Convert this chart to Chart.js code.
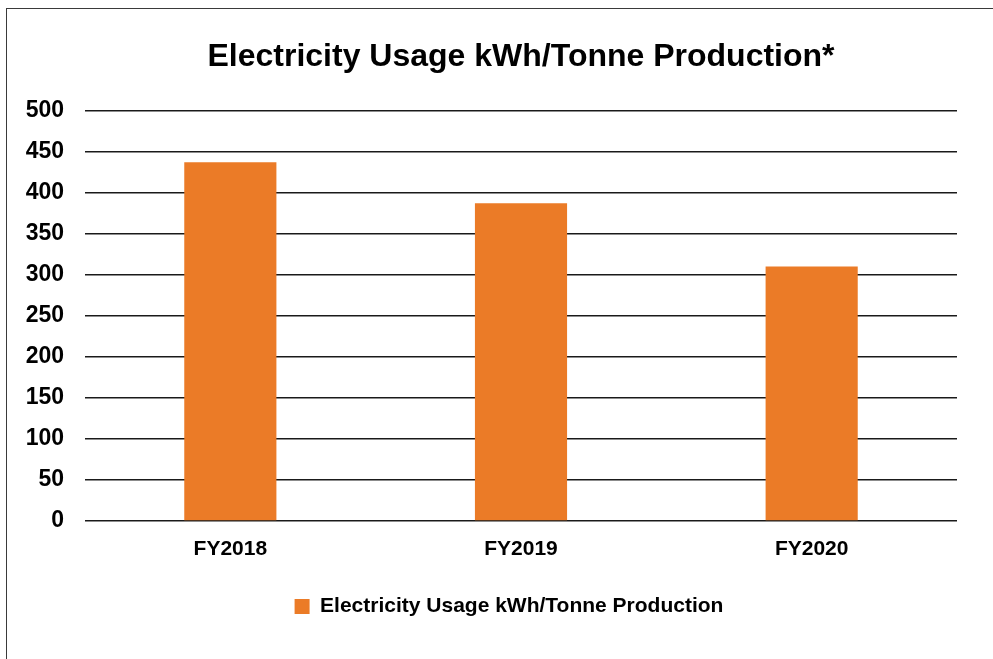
<!DOCTYPE html>
<html>
<head>
<meta charset="utf-8">
<script src="https://cdn.jsdelivr.net/npm/chart.js@4"></script>
<style>
  html, body { margin: 0; padding: 0; background: #fff; }
  #wrap { position: relative; width: 993px; height: 659px; overflow: hidden; }
  #frame { position: absolute; left: 6px; top: 8px; right: -5px; bottom: -5px; border-left: 1.5px solid #3a3a3a; border-top: 1.5px solid #3a3a3a; pointer-events: none; }
  canvas { position: absolute; left: 0; top: 0; }
</style>
</head>
<body>
<div id="wrap">
  <canvas id="c" width="993" height="659"></canvas>
  <div id="frame"></div>
</div>
<script>
const categories = ["FY2018", "FY2019", "FY2020"];
const seriesName = "Electricity Usage kWh/Tonne Production";
const values = [437, 387, 310];
const titleText = "Electricity Usage kWh/Tonne Production*";
const yMin = 0, yMax = 500, yStep = 50;

const FONT = "'Liberation Sans', Arial, Helvetica, sans-serif";

const shiftLegend = {
  id: 'shiftLegend',
  afterLayout(chart) {
    const lg = chart.legend;
    if (lg) { lg.left -= 12; lg.right -= 12; }
  }
};

new Chart(document.getElementById('c'), {
  type: 'bar',
  data: {
    labels: categories,
    datasets: [{
      label: seriesName,
      data: values,
      backgroundColor: '#EB7B27',
      borderWidth: 0,
      barPercentage: 1,
      categoryPercentage: 0.317
    }]
  },
  options: {
    responsive: false,
    animation: false,
    layout: { padding: { left: 0, right: 36, top: 0, bottom: 32 } },
    plugins: {
      title: {
        display: true,
        text: titleText,
        fullSize: false,
        color: '#000',
        font: { family: FONT, size: 32, weight: 'bold' },
        padding: { top: 38, bottom: 34 }
      },
      legend: {
        display: true,
        position: 'bottom',
        fullSize: false,
        labels: {
          color: '#000',
          font: { family: FONT, size: 21, weight: 'bold' },
          boxWidth: 15,
          boxHeight: 15,
          padding: 10
        }
      },
      tooltip: { enabled: false }
    },
    scales: {
      x: {
        grid: { display: false, drawTicks: false },
        border: { display: false },
        ticks: {
          color: '#000',
          font: { family: FONT, size: 21, weight: 'bold' },
          padding: 16
        },
        afterFit(scale) { scale.height = 65; }
      },
      y: {
        min: yMin,
        max: yMax,
        grid: { color: '#1a1a1a', lineWidth: 1.4, drawTicks: false },
        border: { display: false },
        ticks: {
          stepSize: yStep,
          color: '#000',
          font: { family: FONT, size: 23, weight: 'bold' },
          padding: 21
        },
        afterFit(scale) { scale.width = 85; }
      }
    }
  },
  plugins: [shiftLegend]
});
</script>
</body>
</html>
